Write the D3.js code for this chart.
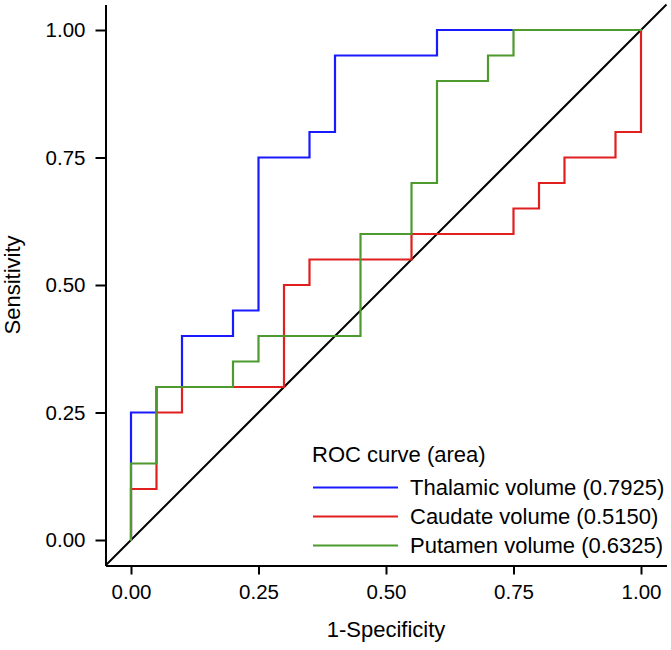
<!DOCTYPE html>
<html>
<head>
<meta charset="utf-8">
<script src="https://cdn.jsdelivr.net/npm/d3@7"></script>
<style>
  html, body { margin: 0; padding: 0; background: #fff; }
  svg { display: block; }
  text { font-family: "Liberation Sans", Arial, Helvetica, sans-serif; fill: #000; }
</style>
</head>
<body>
<svg id="chart" width="671" height="650"></svg>
<script>
// ---- Data ----
const axisTicks = [0, 0.25, 0.5, 0.75, 1];
const tickLabels = ["0.00", "0.25", "0.50", "0.75", "1.00"];

const seriesNames = ["Thalamic volume (0.7925)", "Caudate volume (0.5150)", "Putamen volume (0.6325)"];
const seriesColors = ["#1a1aff", "#e01f1f", "#4f9a2e"];

// ROC step points: [1-specificity, sensitivity]
const thalamicFPR = [0, 0, 0.05, 0.05, 0.10, 0.10, 0.20, 0.20, 0.25, 0.25, 0.35, 0.35, 0.40, 0.40, 0.60, 0.60, 1.00];
const thalamicTPR = [0, 0.25, 0.25, 0.30, 0.30, 0.40, 0.40, 0.45, 0.45, 0.75, 0.75, 0.80, 0.80, 0.95, 0.95, 1.00, 1.00];

const caudateFPR = [0, 0, 0.05, 0.05, 0.10, 0.10, 0.30, 0.30, 0.35, 0.35, 0.55, 0.55, 0.75, 0.75, 0.80, 0.80, 0.85, 0.85, 0.95, 0.95, 1.00, 1.00];
const caudateTPR = [0, 0.10, 0.10, 0.25, 0.25, 0.30, 0.30, 0.50, 0.50, 0.55, 0.55, 0.60, 0.60, 0.65, 0.65, 0.70, 0.70, 0.75, 0.75, 0.80, 0.80, 1.00];

const putamenFPR = [0, 0, 0.05, 0.05, 0.20, 0.20, 0.25, 0.25, 0.45, 0.45, 0.55, 0.55, 0.60, 0.60, 0.70, 0.70, 0.75, 0.75, 1.00];
const putamenTPR = [0, 0.15, 0.15, 0.30, 0.30, 0.35, 0.35, 0.40, 0.40, 0.60, 0.60, 0.70, 0.70, 0.90, 0.90, 0.95, 0.95, 1.00, 1.00];

const refLine = [-0.05, 1.05];

// ---- Chart ----
const svg = d3.select("#chart");
const x = d3.scaleLinear().domain([-0.05, 1.05]).range([105.5, 666.5]);
const y = d3.scaleLinear().domain([-0.05, 1.05]).range([565.5, 4.5]);

const series = [
  { fpr: thalamicFPR, tpr: thalamicTPR },
  { fpr: caudateFPR, tpr: caudateTPR },
  { fpr: putamenFPR, tpr: putamenTPR }
];

const line = d3.line().x(d => x(d[0])).y(d => y(d[1]));

// reference diagonal
svg.append("path")
  .attr("d", line(refLine.map(v => [v, v])))
  .attr("fill", "none").attr("stroke", "#000").attr("stroke-width", 2);

series.forEach((s, i) => {
  const pts = s.fpr.map((f, j) => [f, s.tpr[j]]);
  svg.append("path")
    .attr("d", line(pts))
    .attr("fill", "none")
    .attr("stroke", seriesColors[i])
    .attr("stroke-width", 2.2)
    .attr("stroke-linejoin", "miter")
    .attr("stroke-linecap", "square");
});

// axes
const xAxis = d3.axisBottom(x).tickValues(axisTicks).tickFormat((d, i) => tickLabels[i])
  .tickSize(9).tickPadding(10).tickSizeOuter(0);
const yAxis = d3.axisLeft(y).tickValues(axisTicks).tickFormat((d, i) => tickLabels[i])
  .tickSize(10).tickPadding(10).tickSizeOuter(0);

const gx = svg.append("g").attr("transform", "translate(0,565.5)").call(xAxis);
const gy = svg.append("g").attr("transform", "translate(105.5,0)").call(yAxis);
[gx, gy].forEach(g => {
  g.select(".domain").attr("stroke", "#000").attr("stroke-width", 2);
  g.selectAll(".tick line").attr("stroke", "#000").attr("stroke-width", 2);
  g.selectAll(".tick text").attr("font-size", 20.5).attr("font-family", "Liberation Sans, Arial, sans-serif").attr("fill", "#000");
});

// axis titles
svg.append("text").attr("x", x(0.5)).attr("y", 637)
  .attr("text-anchor", "middle").attr("font-size", 22).text("1-Specificity");
svg.append("text").attr("transform", `translate(20,${y(0.5)}) rotate(-90)`)
  .attr("text-anchor", "middle").attr("font-size", 22).text("Sensitivity");

// legend
const lg = svg.append("g");
lg.append("text").attr("x", 312).attr("y", 462).attr("font-size", 22).text("ROC curve (area)");
seriesNames.forEach((name, i) => {
  const ly = 487.5 + i * 29;
  lg.append("line").attr("x1", 313).attr("x2", 398).attr("y1", ly).attr("y2", ly)
    .attr("stroke", seriesColors[i]).attr("stroke-width", 2.2);
  lg.append("text").attr("x", 410).attr("y", ly + 7.5).attr("font-size", 22).text(name);
});
</script>
</body>
</html>
